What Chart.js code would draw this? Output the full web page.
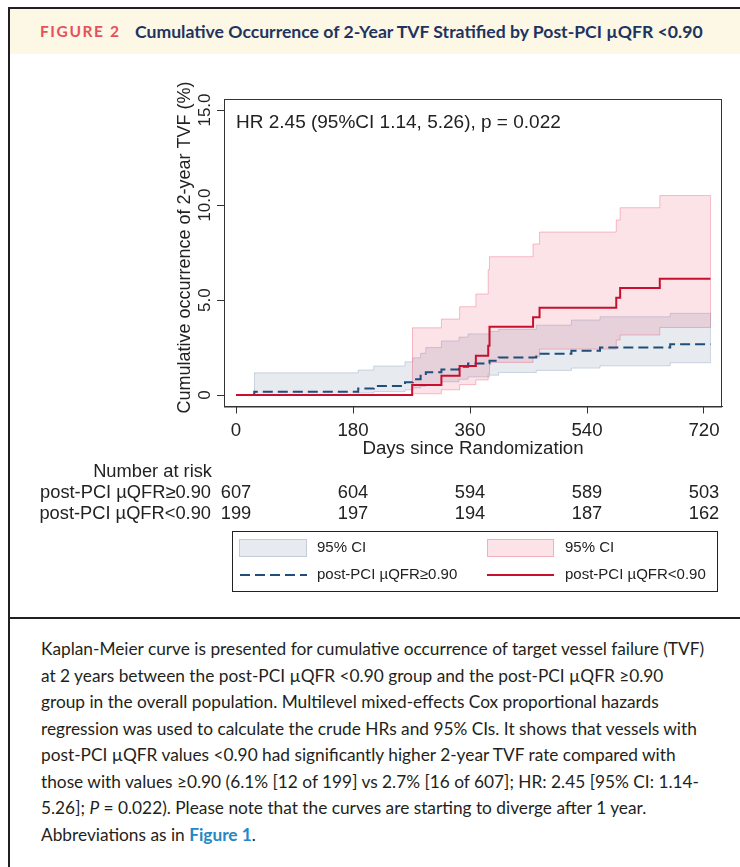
<!DOCTYPE html>
<html>
<head>
<meta charset="utf-8">
<script src="https://cdn.jsdelivr.net/npm/chart.js@4.4.1/dist/chart.umd.min.js"></script>
<style>
  body { margin: 0; width: 740px; height: 867px; overflow: hidden; position: relative; background: #fff; }
  #frame { position: absolute; left: 8px; top: 7px; width: 800px; height: 900px;
           border-left: 2px solid #231f20; border-top: 2px solid #231f20; }
  #head { position: absolute; left: 10px; top: 9px; width: 730px; height: 45px; background: #fdf7e6; }
  #head .fig { position: absolute; left: 30px; top: 13px; font: bold 15.5px Lato, sans-serif;
               letter-spacing: 1.6px; color: #e5505a; }
  #head .ttl { position: absolute; left: 125px; top: 12px; font: bold 17.6px Lato, sans-serif;
               color: #1d3461; white-space: nowrap; }
  #divider { position: absolute; left: 8px; top: 617px; width: 740px; height: 2px; background: #231f20; }
  #chart { position: absolute; left: 0; top: 0; z-index: 1; }
  #caption { position: absolute; left: 41px; top: 636px; font: 17.3px Lato, sans-serif; color: #231f20;
             line-height: 26.5px; white-space: nowrap; }
  #caption b { color: #2488c4; }
</style>
</head>
<body>
<div id="frame"></div>
<div id="head"><span class="fig">FIGURE 2</span><span class="ttl">Cumulative Occurrence of 2-Year TVF Stratified by Post-PCI µQFR &lt;0.90</span></div>
<canvas id="chart" width="740" height="618"></canvas>
<div id="divider"></div>
<div id="caption">
  <div>Kaplan-Meier curve is presented for cumulative occurrence of target vessel failure (TVF)</div>
  <div>at 2 years between the post-PCI µQFR &lt;0.90 group and the post-PCI µQFR ≥0.90</div>
  <div>group in the overall population. Multilevel mixed-effects Cox proportional hazards</div>
  <div>regression was used to calculate the crude HRs and 95% CIs. It shows that vessels with</div>
  <div>post-PCI µQFR values &lt;0.90 had significantly higher 2-year TVF rate compared with</div>
  <div>those with values ≥0.90 (6.1% [12 of 199] vs 2.7% [16 of 607]; HR: 2.45 [95% CI: 1.14-</div>
  <div>5.26]; <i>P</i> = 0.022). Please note that the curves are starting to diverge after 1 year.</div>
  <div>Abbreviations as in <b>Figure 1</b>.</div>
</div>
<script>
// axis ticks
const xTicks = [0, 180, 360, 540, 720];
const yTicks = [0, 5, 10, 15];
const endDay = 730;

// post-PCI uQFR>=0.90 (navy, dashed)
const highDays  = [28, 188, 212, 260, 272, 284, 292, 316, 343, 357, 390, 404, 462, 516, 560, 668];
const highCum   = [0.17, 0.35, 0.48, 0.68, 0.84, 1.02, 1.2, 1.35, 1.49, 1.66, 1.81, 1.98, 2.18, 2.34, 2.51, 2.68];
const highUpper = [1.17, 1.32, 1.53, 1.75, 1.96, 2.2, 2.5, 2.85, 3.05, 3.22, 3.35, 3.46, 3.68, 3.95, 4.12, 4.3];
const highLower = [0.02, 0.11, 0.18, 0.27, 0.38, 0.46, 0.56, 0.7, 0.83, 0.96, 1.05, 1.19, 1.3, 1.42, 1.54, 1.7];

// post-PCI uQFR<0.90 (red, solid)
const lowDays  = [271, 316, 344, 369, 388, 390, 457, 467, 585, 591, 652];
const lowCum   = [0.53, 1.02, 1.53, 2.07, 2.6, 3.6, 4.09, 4.6, 5.12, 5.63, 6.12];
const lowUpper = [3.54, 4.0, 4.65, 5.32, 6.6, 7.28, 7.95, 8.58, 9.21, 9.86, 10.5];
const lowLower = [0.07, 0.28, 0.55, 0.8, 1.1, 1.72, 2.02, 2.42, 2.9, 3.16, 3.56];

// number at risk
const riskHigh = [607, 604, 594, 589, 503];
const riskLow  = [199, 197, 194, 187, 162];

const navy = '#1f4e7a';
const red = '#c8102e';
const greyFill = 'rgba(40,70,120,0.11)';
const greyEdge = 'rgba(60,90,140,0.22)';
const pinkFill = 'rgba(225,40,80,0.13)';
const pinkEdge = 'rgba(225,40,80,0.28)';
const FONT = "'Liberation Sans', Arial, sans-serif";

function curve(days, vals, start) {
  const pts = start ? [{x: 0, y: 0}] : [];
  days.forEach((d, i) => pts.push({x: d, y: vals[i]}));
  pts.push({x: endDay, y: vals[vals.length - 1]});
  return pts;
}

// closing edges of the CI bands, from the band data
function bandEdges(ctx, x, y, days, up, lo, color) {
  ctx.strokeStyle = color;
  ctx.lineWidth = 1;
  [[days[0], up[0], lo[0]], [endDay, up[up.length - 1], lo[lo.length - 1]]].forEach(([d, u, l]) => {
    const px = Math.round(x.getPixelForValue(d)) + 0.5;
    ctx.beginPath();
    ctx.moveTo(px, y.getPixelForValue(u));
    ctx.lineTo(px, y.getPixelForValue(l));
    ctx.stroke();
  });
}

const extras = {
  id: 'extras',
  afterDatasetsDraw(chart) {
    const {ctx, scales: {x, y}} = chart;
    ctx.save();
    bandEdges(ctx, x, y, lowDays, lowUpper, lowLower, pinkEdge);
    bandEdges(ctx, x, y, highDays, highUpper, highLower, greyEdge);
    ctx.restore();
  },
  afterDraw(chart) {
    const {ctx, chartArea: a, scales: {x, y}} = chart;
    ctx.save();
    // plot frame
    ctx.strokeStyle = '#333';
    ctx.lineWidth = 1;
    ctx.strokeRect(a.left + 0.5, a.top + 0.5, a.right - a.left - 1, a.bottom - a.top);

    ctx.fillStyle = '#222';
    ctx.textBaseline = 'middle';
    // y tick labels, rotated
    ctx.font = '17px ' + FONT;
    ctx.textAlign = 'center';
    y.ticks.forEach(t => {
      ctx.save();
      ctx.translate(205, y.getPixelForValue(t.value));
      ctx.rotate(-Math.PI / 2);
      ctx.fillText(t.value === 0 ? '0' : t.value.toFixed(1), 0, 0);
      ctx.restore();
    });
    // y title
    ctx.font = '18px ' + FONT;
    ctx.save();
    ctx.translate(185, 247.5);
    ctx.rotate(-Math.PI / 2);
    ctx.fillText('Cumulative occurrence of 2-year TVF (%)', 0, 0);
    ctx.restore();

    // HR note
    ctx.font = '19px ' + FONT;
    ctx.textAlign = 'left';
    ctx.fillText('HR 2.45 (95%CI 1.14, 5.26), p = 0.022', a.left + 12, 123);

    // number at risk table
    ctx.font = '18.3px ' + FONT;
    ctx.textAlign = 'right';
    ctx.fillText('Number at risk', 212, 472);
    ctx.fillText('post-PCI µQFR≥0.90', 211, 493);
    ctx.fillText('post-PCI µQFR<0.90', 211, 514);
    ctx.textAlign = 'center';
    xTicks.forEach((d, i) => {
      const px = x.getPixelForValue(d);
      ctx.fillText(String(riskHigh[i]), px, 493);
      ctx.fillText(String(riskLow[i]), px, 514);
    });

    // legend
    ctx.strokeStyle = '#222';
    ctx.strokeRect(232.5, 531.5, 485, 60);
    ctx.fillStyle = greyFill;
    ctx.fillRect(239, 539, 68, 18);
    ctx.strokeStyle = greyEdge;
    ctx.strokeRect(239.5, 539.5, 67, 17);
    ctx.fillStyle = pinkFill;
    ctx.fillRect(487, 539, 67, 18);
    ctx.strokeStyle = pinkEdge;
    ctx.strokeRect(487.5, 539.5, 66, 17);
    ctx.lineWidth = 2;
    ctx.strokeStyle = navy;
    ctx.setLineDash([10, 5]);
    ctx.beginPath(); ctx.moveTo(240, 575); ctx.lineTo(307, 575); ctx.stroke();
    ctx.setLineDash([]);
    ctx.strokeStyle = red;
    ctx.beginPath(); ctx.moveTo(487, 575); ctx.lineTo(554, 575); ctx.stroke();
    ctx.fillStyle = '#222';
    ctx.textAlign = 'left';
    ctx.font = '15px ' + FONT;
    ctx.fillText('95% CI', 317, 548);
    ctx.fillText('95% CI', 565, 548);
    ctx.fillText('post-PCI µQFR≥0.90', 317, 575);
    ctx.fillText('post-PCI µQFR<0.90', 565, 575);
    ctx.restore();
  }
};

const line = (data, extra) => Object.assign({
  data, stepped: 'before', pointRadius: 0, borderWidth: 2, fill: false
}, extra);

new Chart(document.getElementById('chart'), {
  type: 'line',
  data: {
    datasets: [
      line(curve(lowDays, lowCum, true), {borderColor: red}),
      line(curve(highDays, highCum, true), {borderColor: navy, borderDash: [10, 5]}),
      line(curve(lowDays, lowUpper, false), {borderColor: pinkEdge, borderWidth: 1, backgroundColor: pinkFill, fill: '+1'}),
      line(curve(lowDays, lowLower, false), {borderColor: pinkEdge, borderWidth: 1}),
      line(curve(highDays, highUpper, false), {borderColor: greyEdge, borderWidth: 1, backgroundColor: greyFill, fill: '+1'}),
      line(curve(highDays, highLower, false), {borderColor: greyEdge, borderWidth: 1})
    ]
  },
  options: {
    responsive: false,
    animation: false,
    layout: {padding: {left: 0, top: 99, right: 18, bottom: 157.5}},
    plugins: {legend: {display: false}, tooltip: {enabled: false}},
    scales: {
      x: {
        type: 'linear', min: -18.5, max: 747.7,
        afterBuildTicks: s => { s.ticks = xTicks.map(v => ({value: v})); },
        afterFit: s => { s.height = 54; },
        grid: {drawOnChartArea: false, tickLength: 7, color: '#333'},
        border: {color: '#333'},
        ticks: {font: {family: FONT, size: 18.7}, color: '#222', padding: 6, maxRotation: 0},
        title: {display: true, text: 'Days since Randomization', font: {family: FONT, size: 18.7}, color: '#222', padding: 0}
      },
      y: {
        type: 'linear', min: -0.6, max: 15.58,
        afterBuildTicks: s => { s.ticks = yTicks.map(v => ({value: v})); },
        afterFit: s => { s.width = 224; },
        grid: {drawOnChartArea: false, tickLength: 7, color: '#333'},
        border: {color: '#333'},
        ticks: {display: false}
      }
    }
  },
  plugins: [extras]
});
</script>
</body>
</html>
